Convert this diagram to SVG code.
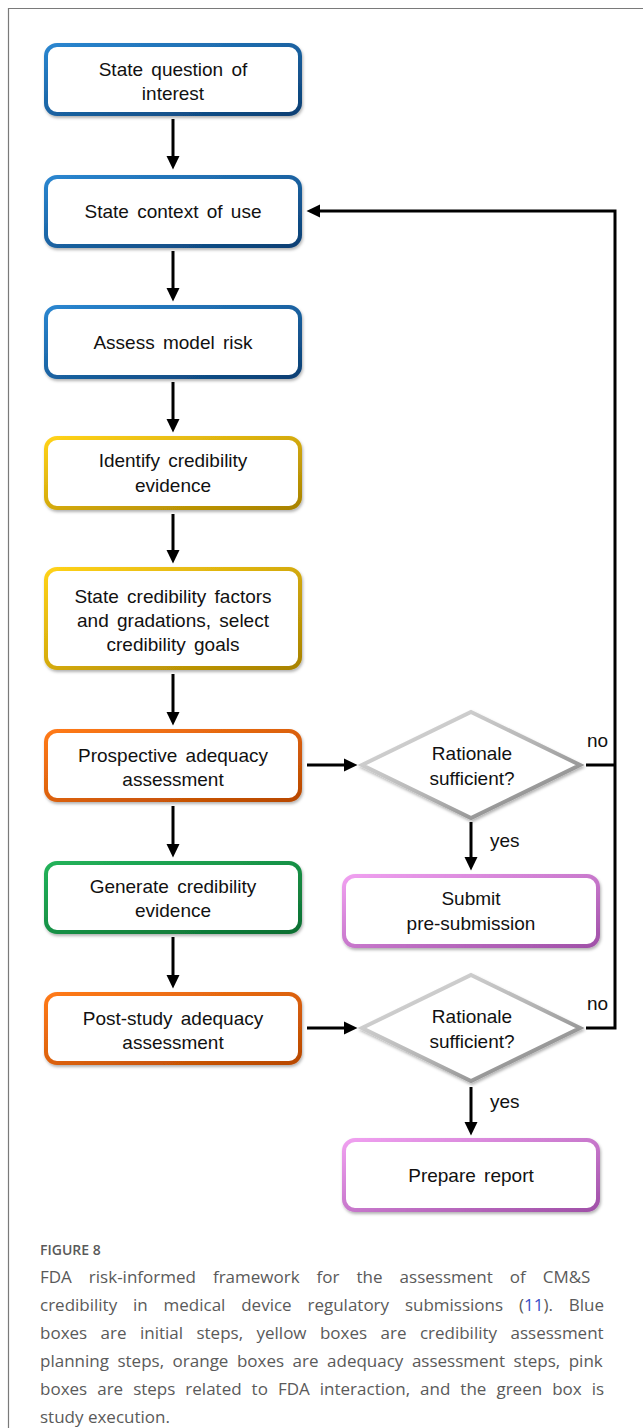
<svg xmlns="http://www.w3.org/2000/svg" width="643" height="1428" viewBox="0 0 643 1428">
<defs>
<style>
.t{font-family:"Liberation Sans",Arial,sans-serif;font-size:19px;fill:#111;text-anchor:middle;word-spacing:3px}
.l{font-family:"Liberation Sans",Arial,sans-serif;font-size:19px;fill:#111}
.cap{font-family:"Open Sans","Noto Sans",sans-serif;font-size:17px;fill:#5a5a5a}
.fig{font-family:"Open Sans","Noto Sans",sans-serif;font-size:14px;font-weight:600;fill:#5a5a5a}
.c{fill:none;stroke:#000;stroke-width:3}
.box{fill:#ffffff;stroke-width:4;filter:url(#sh)}
</style>
<linearGradient id="gb" x1="0" y1="0" x2="1" y2="1"><stop offset="0" stop-color="#2a86d0"/><stop offset="1" stop-color="#0b3f73"/></linearGradient>
<linearGradient id="gy" x1="0" y1="0" x2="1" y2="1"><stop offset="0" stop-color="#ffd21a"/><stop offset="1" stop-color="#a88200"/></linearGradient>
<linearGradient id="go" x1="0" y1="0" x2="1" y2="1"><stop offset="0" stop-color="#ff7a1a"/><stop offset="1" stop-color="#b84800"/></linearGradient>
<linearGradient id="gg" x1="0" y1="0" x2="1" y2="1"><stop offset="0" stop-color="#22b25a"/><stop offset="1" stop-color="#0d6f32"/></linearGradient>
<linearGradient id="gp" x1="0" y1="0" x2="1" y2="1"><stop offset="0" stop-color="#f0a0f0"/><stop offset="1" stop-color="#a050a8"/></linearGradient>
<linearGradient id="gs" x1="0" y1="0" x2="1" y2="1"><stop offset="0" stop-color="#e0e0e0"/><stop offset="0.5" stop-color="#b8b8b8"/><stop offset="1" stop-color="#7a7a7a"/></linearGradient>
<filter id="sh" x="-10%" y="-10%" width="120%" height="130%"><feDropShadow dx="1" dy="2" stdDeviation="1.5" flood-color="#000" flood-opacity="0.3"/></filter>
<marker id="ah" markerUnits="userSpaceOnUse" markerWidth="14" markerHeight="14" viewBox="0 0 14 14" refX="2" refY="7" orient="auto"><path d="M0,0.5 L13.5,7 L0,13.5 z" fill="#000"/></marker>
</defs>
<rect width="643" height="1428" fill="#ffffff"/>
<path d="M8.5,1428 V8.5 H643" fill="none" stroke="#7a7a7a" stroke-width="1.2"/>

<g id="connectors">
<line class="c" x1="173" y1="119" x2="173" y2="158" marker-end="url(#ah)"/>
<line class="c" x1="173" y1="251" x2="173" y2="290" marker-end="url(#ah)"/>
<line class="c" x1="173" y1="382" x2="173" y2="421" marker-end="url(#ah)"/>
<line class="c" x1="173" y1="514" x2="173" y2="552" marker-end="url(#ah)"/>
<line class="c" x1="173" y1="674" x2="173" y2="714" marker-end="url(#ah)"/>
<line class="c" x1="173" y1="806" x2="173" y2="846" marker-end="url(#ah)"/>
<line class="c" x1="173" y1="937" x2="173" y2="977" marker-end="url(#ah)"/>
<line class="c" x1="307" y1="765" x2="346" y2="765" marker-end="url(#ah)"/>
<line class="c" x1="307" y1="1028" x2="346" y2="1028" marker-end="url(#ah)"/>
<line class="c" x1="471" y1="822" x2="471" y2="859" marker-end="url(#ah)"/>
<line class="c" x1="471" y1="1087" x2="471" y2="1124" marker-end="url(#ah)"/>
<polyline class="c" points="586,765 615,765"/>
<polyline class="c" points="586,1028 615,1028 615,211 318,211" marker-end="url(#ah)"/>
<text class="l" x="587" y="747">no</text>
<text class="l" x="587" y="1010">no</text>
<text class="l" x="490" y="847">yes</text>
<text class="l" x="490" y="1108">yes</text>
</g>

<g id="n1"><rect class="box" x="46" y="45" width="254" height="69" rx="11" stroke="url(#gb)"/>
<text class="t" x="173" y="76">State question of</text><text class="t" x="173" y="100">interest</text></g>
<g id="n2"><rect class="box" x="46" y="177" width="254" height="69" rx="11" stroke="url(#gb)"/>
<text class="t" x="173" y="218">State context of use</text></g>
<g id="n3"><rect class="box" x="46" y="307" width="254" height="70" rx="11" stroke="url(#gb)"/>
<text class="t" x="173" y="349">Assess model risk</text></g>
<g id="n4"><rect class="box" x="46" y="438" width="254" height="70" rx="11" stroke="url(#gy)"/>
<text class="t" x="173" y="467">Identify credibility</text><text class="t" x="173" y="492">evidence</text></g>
<g id="n5"><rect class="box" x="46" y="569" width="254" height="99" rx="11" stroke="url(#gy)"/>
<text class="t" x="173" y="603">State credibility factors</text><text class="t" x="173" y="627">and gradations, select</text><text class="t" x="173" y="651">credibility goals</text></g>
<g id="n6"><rect class="box" x="46" y="731" width="254" height="69" rx="11" stroke="url(#go)"/>
<text class="t" x="173" y="762">Prospective adequacy</text><text class="t" x="173" y="786">assessment</text></g>
<g id="n7"><rect class="box" x="46" y="863" width="254" height="69" rx="11" stroke="url(#gg)"/>
<text class="t" x="173" y="893">Generate credibility</text><text class="t" x="173" y="917">evidence</text></g>
<g id="n8"><rect class="box" x="46" y="994" width="254" height="69" rx="11" stroke="url(#go)"/>
<text class="t" x="173" y="1025">Post-study adequacy</text><text class="t" x="173" y="1049">assessment</text></g>

<g id="d1"><polygon points="471,712 580,765 471,818 362,765" fill="#fff" stroke="url(#gs)" stroke-width="4" filter="url(#sh)"/>
<text class="t" x="472" y="760">Rationale</text><text class="t" x="472" y="785">sufficient?</text></g>
<g id="d2"><polygon points="471,975 580,1028 471,1081 362,1028" fill="#fff" stroke="url(#gs)" stroke-width="4" filter="url(#sh)"/>
<text class="t" x="472" y="1023">Rationale</text><text class="t" x="472" y="1048">sufficient?</text></g>

<g id="p1"><rect class="box" x="344" y="876" width="254" height="70" rx="11" stroke="url(#gp)"/>
<text class="t" x="471" y="905">Submit</text><text class="t" x="471" y="930">pre-submission</text></g>
<g id="p2"><rect class="box" x="344" y="1140" width="254" height="70" rx="11" stroke="url(#gp)"/>
<text class="t" x="471" y="1182">Prepare report</text></g>

<g id="caption">
<text class="fig" x="40" y="1255">FIGURE 8</text>
<text class="cap" x="40" y="1283" style="word-spacing:12.6px">FDA risk-informed framework for the assessment of CM&amp;S</text>
<text class="cap" x="40" y="1311" style="word-spacing:11.4px">credibility in medical device regulatory submissions (<tspan fill="#3a4fc8">11</tspan>). Blue</text>
<text class="cap" x="40" y="1339" style="word-spacing:9px">boxes are initial steps, yellow boxes are credibility assessment</text>
<text class="cap" x="40" y="1367" style="word-spacing:4.1px">planning steps, orange boxes are adequacy assessment steps, pink</text>
<text class="cap" x="40" y="1395" style="word-spacing:5.6px">boxes are steps related to FDA interaction, and the green box is</text>
<text class="cap" x="40" y="1423">study execution.</text>
</g>
</svg>
